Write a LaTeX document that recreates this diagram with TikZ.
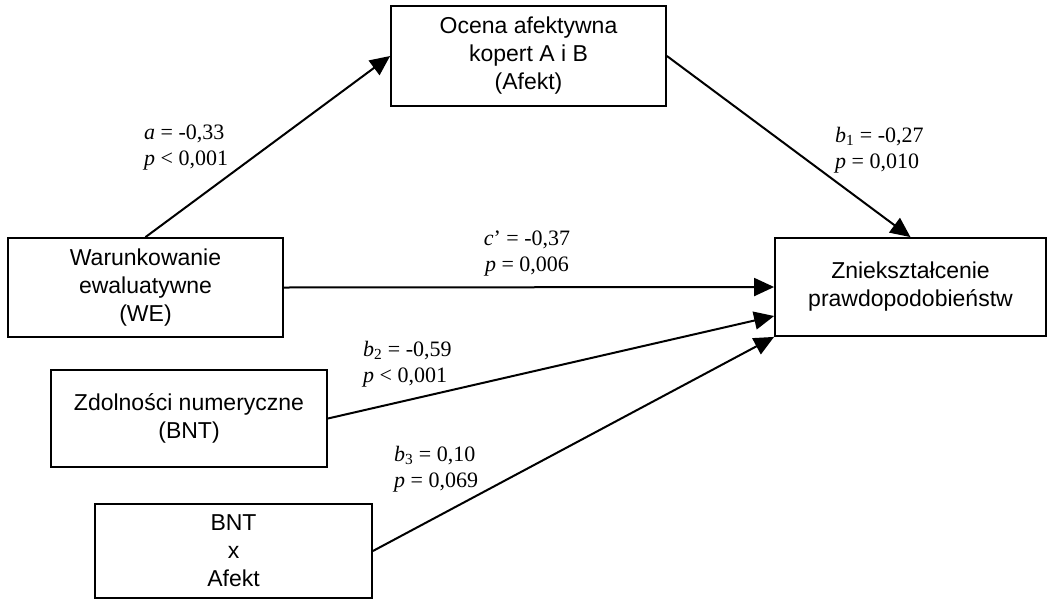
\documentclass[tikz,border=0pt]{standalone}
\usepackage{fontspec}
\setmainfont{Liberation Serif}
\newfontfamily\arialf{Liberation Sans}
\usetikzlibrary{arrows.meta}
\begin{document}
\begin{tikzpicture}[x=1pt,y=-1pt,
  boxnode/.style={draw, line width=1.8pt, rectangle, align=center, inner sep=0pt,
    font=\arialf\fontsize{23}{28}\selectfont},
  lbl/.style={font=\fontsize{22}{26}\selectfont, inner sep=0pt, align=left, anchor=west},
  conn/.style={line width=2pt, -{Triangle[length=20pt,width=18pt]}}]
\useasboundingbox (0,0) rectangle (1052,600);
\node[boxnode, minimum width=275pt, minimum height=100pt] (afekt) at (528.5,56) {Ocena afektywna\\kopert A i B\\(Afekt)};
\node[boxnode, minimum width=275pt, minimum height=99pt] (we) at (145.5,287.5) {Warunkowanie\\ewaluatywne\\(WE)};
\node[boxnode, minimum width=271pt, minimum height=98pt] (zn) at (910.5,287) {Zniekształcenie\\prawdopodobieństw};
\node[boxnode, minimum width=276pt, minimum height=97pt] (zd) at (189,418.5) {Zdolności numeryczne\\(BNT)};
\node[boxnode, minimum width=277pt, minimum height=94pt] (bnt) at (233.5,551) {BNT\\x\\Afekt};

\draw[conn] (we.north) -- (afekt.west);
\draw[conn] (afekt.east) -- (zn.north);
\draw[conn] (we.east) -- (zn.west);
\coordinate (zin) at ([yshift=-29pt]zn.west);
\draw[conn] (zd.east) -- (zin);
\draw[conn] (bnt.east) -- (zn.south west);

\node[lbl] (la) at (144,148) {{\itshape a} = -0,33\\{\itshape p} < 0,001};
\node[lbl] (lb1) at (835,150) {{\itshape b}\textsubscript{1} = -0,27\\{\itshape p} = 0,010};
\node[lbl, align=center, anchor=center] (lc) at (527,253.5) {{\itshape c}’ = -0,37\\{\itshape p} = 0,006};
\node[lbl] (lb2) at (363,364) {{\itshape b}\textsubscript{2} = -0,59\\{\itshape p} < 0,001};
\node[lbl] (lb3) at (394,469) {{\itshape b}\textsubscript{3} = 0,10\\{\itshape p} = 0,069};
\end{tikzpicture}
\end{document}
